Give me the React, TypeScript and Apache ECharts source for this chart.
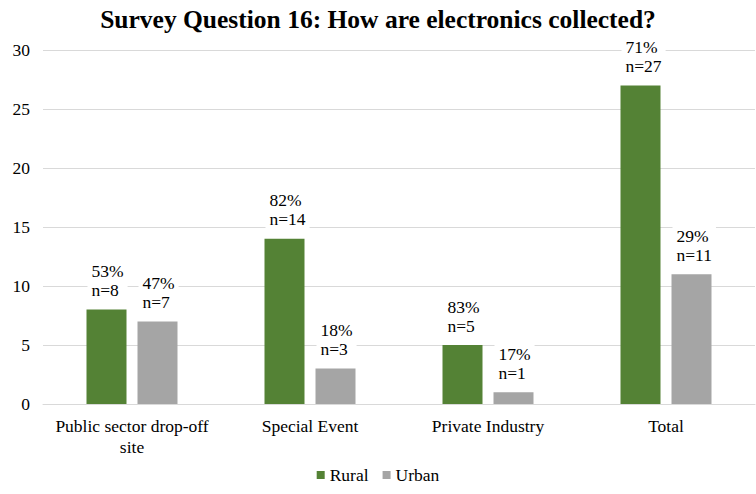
import React, { useEffect, useRef } from "react";
import * as echarts from "echarts";

const categories = ["Public sector drop-off\nsite", "Special Event", "Private Industry", "Total"];
const ruralValues = [8, 14, 5, 27];
const urbanValues = [7, 3, 1, 11];
const ruralPercents = ["53%", "82%", "83%", "71%"];
const urbanPercents = ["47%", "18%", "17%", "29%"];

const FONT = "Liberation Serif";
const FS = 17.5;

export default function App() {
  const ref = useRef<HTMLDivElement>(null);
  useEffect(() => {
    if (!ref.current) return;
    const chart = echarts.init(ref.current, null, { renderer: "svg" });
    const mkLabel = (pcts: string[]) => ({
      show: true,
      position: [1, -10] as [number, number],
      align: "left" as const,
      verticalAlign: "bottom" as const,
      fontFamily: FONT,
      fontSize: FS,
      color: "#000",
      lineHeight: 19,
      backgroundColor: "#fff",
      padding: [1, 4, 0, 4],
      formatter: (p: any) => `${pcts[p.dataIndex]}\nn=${p.value}`,
    });
    chart.setOption({
      animation: false,
      backgroundColor: "#fff",
      textStyle: { fontFamily: FONT },
      title: {
        text: "Survey Question 16: How are electronics collected?",
        left: "center",
        top: 1,
        textStyle: { fontFamily: FONT, fontSize: 25.5, fontWeight: "bold", color: "#000" },
      },
      legend: {
        bottom: 5,
        left: "center",
        itemWidth: 8,
        itemHeight: 8,
        itemGap: 14,
        icon: "rect",
        textStyle: { fontFamily: FONT, fontSize: FS, color: "#000" },
        data: ["Rural", "Urban"],
      },
      grid: { left: 43, right: 1, top: 50, bottom: 90, containLabel: false },
      xAxis: {
        type: "category",
        data: categories,
        axisLine: { lineStyle: { color: "#d9d9d9", width: 1 } },
        axisTick: { show: false },
        axisLabel: { interval: 0, fontFamily: FONT, fontSize: FS, color: "#000", margin: 11, lineHeight: 21 },
      },
      yAxis: {
        type: "value",
        min: 0,
        max: 30,
        interval: 5,
        axisLine: { show: false },
        axisTick: { show: false },
        splitLine: { lineStyle: { color: "#d9d9d9", width: 1 } },
        axisLabel: { fontFamily: FONT, fontSize: FS, color: "#000", margin: 13 },
      },
      series: [
        {
          name: "Rural",
          type: "bar",
          data: ruralValues,
          barWidth: 40,
          barGap: "27.5%",
          itemStyle: { color: "#548235" },
          label: mkLabel(ruralPercents),
          z: 2,
        },
        {
          name: "Urban",
          type: "bar",
          data: urbanValues,
          barWidth: 40,
          barGap: "27.5%",
          itemStyle: { color: "#a5a5a5" },
          label: mkLabel(urbanPercents),
          z: 2,
        },
      ],
    });
    return () => chart.dispose();
  }, []);
  return <div ref={ref} style={{ width: 756, height: 494, position: "absolute", left: 0, top: 0 }} />;
}
